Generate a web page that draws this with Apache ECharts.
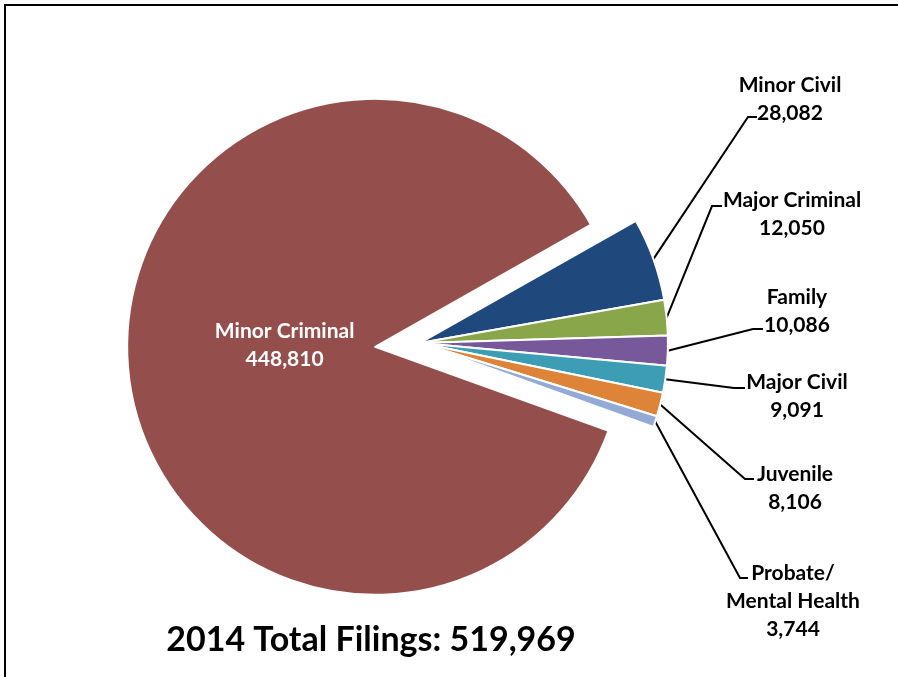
<!DOCTYPE html>
<html><head><meta charset="utf-8">
<script src="https://cdn.jsdelivr.net/npm/echarts@6/dist/echarts.min.js"></script>
<style>html,body{margin:0;padding:0;background:#fff}#c{width:898px;height:677px}</style>
</head><body><div id="c"></div>
<script>
const categories = ["Minor Civil", "Major Criminal", "Family", "Major Civil", "Juvenile", "Probate/\nMental Health", "Minor Criminal"];
const filings = [28082, 12050, 10086, 9091, 8106, 3744, 448810];
const titleText = "2014 Total Filings: 519,969";
const sliceColors = ["#1F497D", "#8AA64B", "#77599B", "#3D9DB5", "#DD8439", "#93A9D6", "#944E4B"];
// label placement (layout only): [textCenterX, textCenterY, elbowX, elbowY, lineEndX]
const labelSpots = [
  [790, 99, 748, 117, 757],
  [792, 214, 712, 206, 722],
  [797, 311, 753, 329, 763],
  [797, 396, 734, 388, 745],
  [795, 488, 745, 479, 754],
  [793, 601, 740, 578, 748]
];
// inner label shift for the big slice (layout only)
const innerShift = [36, -12];

const chart = echarts.init(document.getElementById('c'), null, {renderer: 'canvas'});
const fmt = v => v.toLocaleString('en-US');
const data = categories.map((name, i) => {
  const item = {name: name, value: filings[i], itemStyle: {color: sliceColors[i]}};
  if (i === categories.length - 1) {
    item.selected = true;
    item.label = {position: 'inside', color: '#fff'};
    item.labelLine = {show: false};
  }
  return item;
});

chart.setOption({
  backgroundColor: '#fff',
  animation: false,
  graphic: [
    {type: 'rect', shape: {x: 5, y: 5, width: 920, height: 700},
     style: {fill: 'none', stroke: '#000', lineWidth: 2}, silent: true},
    {type: 'text', x: 371, y: 640,
     style: {text: titleText, textAlign: 'center', textVerticalAlign: 'middle',
             font: 'bold 34px Lato', fill: '#000'}}
  ],
  series: [{
    type: 'pie',
    center: [420, 343],
    radius: 248,
    startAngle: 29.5,
    clockwise: true,
    selectedMode: 'single',
    selectedOffset: 45,
    avoidLabelOverlap: false,
    itemStyle: {borderColor: '#fff', borderWidth: 2},
    label: {
      show: true, position: 'outside', color: '#000',
      fontFamily: 'Lato', fontWeight: 'bold', fontSize: 21, lineHeight: 28,
      align: 'center',
      formatter: p => p.name + '\n' + fmt(p.value)
    },
    labelLine: {show: true, length: 20, length2: 10, lineStyle: {color: '#000', width: 2}},
    labelLayout: function (params) {
      const s = labelSpots[params.dataIndex];
      if (!s) {
        return {dx: innerShift[0], dy: innerShift[1]};
      }
      const out = {x: s[0], y: s[1], align: 'center', verticalAlign: 'middle'};
      if (params.labelLinePoints) {
        const p0 = params.labelLinePoints[0];
        out.labelLinePoints = [[p0[0], p0[1]], [s[2], s[3]], [s[4], s[3]]];
      }
      return out;
    },
    emphasis: {disabled: true},
    data: data
  }]
});
</script></body></html>
